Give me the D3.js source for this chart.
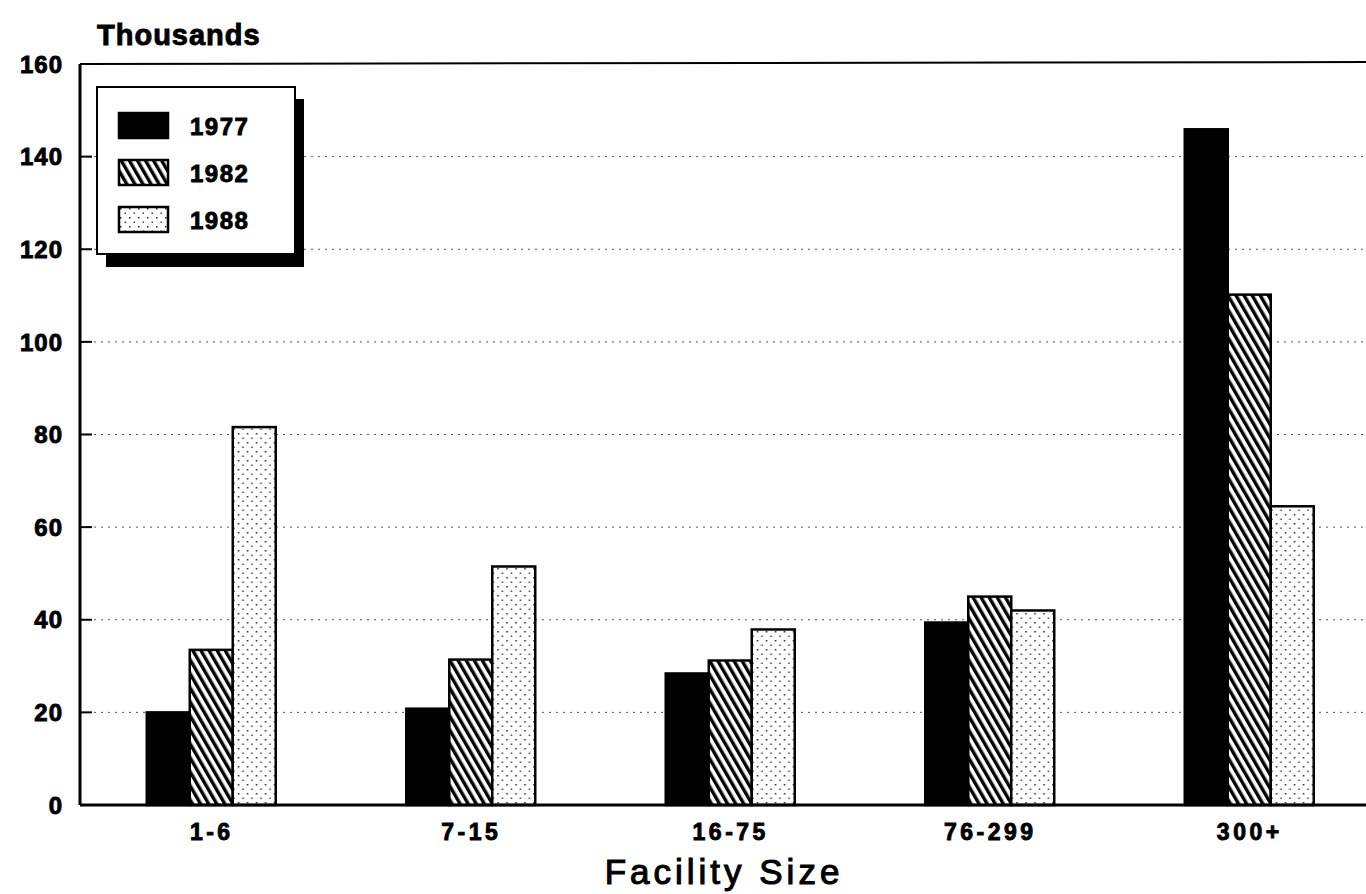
<!DOCTYPE html>
<html lang="en">
<head>
<meta charset="utf-8">
<script src="https://d3js.org/d3.v7.min.js"></script>
<style>
	body { margin: 0; background: #fff; }
	svg { display: block; }
	text { font-family: "Liberation Sans", Arial, sans-serif; font-weight: bold; fill: #000; stroke: #000; stroke-width: 0.9px; }
</style>
</head>
<body>
<script>
var width = 1366, height = 894;

// categories and series (thousands)
var sizes = ["1-6", "7-15", "16-75", "76-299", "300+"];
var years = ["1977", "1982", "1988"];
var v1977 = [20, 20.8, 28.4, 39.4, 145.9];
var v1982 = [33.5, 31.4, 31.2, 45, 110.2];
var v1988 = [81.6, 51.5, 37.9, 42, 64.5];
var yTicks = [0, 20, 40, 60, 80, 100, 120, 140, 160];

var series = [v1977, v1982, v1988];

var margin = {left: 80, top: 64, bottom: 805};

var svg = d3.select("body").append("svg")
	.attr("width", width)
	.attr("height", height);

// fill patterns
var defs = svg.append("defs");
var hatch = defs.append("pattern")
	.attr("id", "hatch")
	.attr("patternUnits", "userSpaceOnUse")
	.attr("width", 7).attr("height", 7)
	.attr("patternTransform", "rotate(-30)");
hatch.append("rect").attr("width", 7).attr("height", 7).attr("fill", "#fff");
hatch.append("rect").attr("width", 3.4).attr("height", 7).attr("fill", "#000");

var dots = defs.append("pattern")
	.attr("id", "dots")
	.attr("patternUnits", "userSpaceOnUse")
	.attr("width", 9).attr("height", 9);
dots.append("rect").attr("width", 9).attr("height", 9).attr("fill", "#fff");
dots.append("rect").attr("x", 1).attr("y", 1).attr("width", 1.5).attr("height", 1.5).attr("fill", "#222");
dots.append("rect").attr("x", 5.5).attr("y", 5.5).attr("width", 1.5).attr("height", 1.5).attr("fill", "#444");

var fills = ["#000", "url(#hatch)", "url(#dots)"];

var y = d3.scaleLinear().domain([0, 160]).range([margin.bottom, margin.top]);
var x0 = d3.scaleBand().domain(sizes).range([margin.left, 1377.5]);
var x1 = d3.scaleBand().domain(years).range([0, 129]);

// dotted gridlines
svg.append("g")
	.selectAll("line")
	.data(yTicks.filter(function(d) { return d > 0 && d < 160; }))
	.enter().append("line")
	.attr("x1", margin.left).attr("x2", width)
	.attr("y1", function(d) { return y(d); })
	.attr("y2", function(d) { return y(d); })
	.attr("stroke", "#555")
	.attr("stroke-width", 1)
	.attr("stroke-dasharray", "2,5");

// small inward ticks on the y axis
svg.append("g")
	.selectAll("line")
	.data(yTicks)
	.enter().append("line")
	.attr("x1", margin.left).attr("x2", margin.left + 12)
	.attr("y1", function(d) { return y(d); })
	.attr("y2", function(d) { return y(d); })
	.attr("stroke", "#000")
	.attr("stroke-width", 2);

// bars
var groups = svg.append("g").selectAll("g")
	.data(sizes)
	.enter().append("g")
	.attr("transform", function(d) { return "translate(" + (x0(d) + x0.bandwidth() / 2 - 63) + ",0)"; });

groups.selectAll("rect")
	.data(function(d, i) { return years.map(function(yr, j) { return {year: yr, value: series[j][i], k: j}; }); })
	.enter().append("rect")
	.attr("x", function(d) { return x1(d.year); })
	.attr("width", x1.bandwidth())
	.attr("y", function(d) { return y(d.value); })
	.attr("height", function(d) { return y(0) - y(d.value); })
	.attr("fill", function(d) { return fills[d.k]; })
	.attr("stroke", "#000")
	.attr("stroke-width", 2.5);

// frame
svg.append("line").attr("x1", margin.left).attr("x2", width)
	.attr("y1", margin.top).attr("y2", margin.top - 2)
	.attr("stroke", "#000").attr("stroke-width", 2);
svg.append("line").attr("x1", margin.left).attr("x2", width)
	.attr("y1", margin.bottom).attr("y2", margin.bottom)
	.attr("stroke", "#000").attr("stroke-width", 3);
svg.append("line").attr("x1", margin.left).attr("x2", margin.left)
	.attr("y1", margin.top).attr("y2", margin.bottom)
	.attr("stroke", "#000").attr("stroke-width", 3);

// y tick labels
svg.append("g").selectAll("text")
	.data(yTicks)
	.enter().append("text")
	.attr("x", 63)
	.attr("y", function(d) { return y(d); })
	.attr("dy", "0.36em")
	.attr("text-anchor", "end")
	.style("font-size", "24px")
	.style("letter-spacing", "1px")
	.text(function(d) { return d; });

// x tick labels
svg.append("g").selectAll("text")
	.data(sizes)
	.enter().append("text")
	.attr("x", function(d) { return x0(d) + x0.bandwidth() / 2 + 2; })
	.attr("y", 840)
	.attr("text-anchor", "middle")
	.style("font-size", "23px")
	.style("letter-spacing", "3.5px")
	.text(function(d) { return d; });

svg.append("text")
	.attr("x", 724).attr("y", 884)
	.attr("text-anchor", "middle")
	.style("font-size", "35px")
	.style("letter-spacing", "4px")
	.style("font-weight", "normal")
	.style("stroke-width", 1.1)
	.text("Facility Size");

svg.append("text")
	.attr("x", 97).attr("y", 45)
	.style("font-size", "29px")
	.style("letter-spacing", "1px")
	.text("Thousands");

// legend with drop shadow
var legend = svg.append("g").attr("transform", "translate(97,87)");
legend.append("rect").attr("x", 9).attr("y", 12).attr("width", 198).attr("height", 168).attr("fill", "#000");
legend.append("rect").attr("width", 198).attr("height", 167)
	.attr("fill", "#fff").attr("stroke", "#000").attr("stroke-width", 2);

var item = legend.selectAll("g.item")
	.data(years)
	.enter().append("g")
	.attr("class", "item")
	.attr("transform", function(d, i) { return "translate(22," + (26 + i * 47) + ")"; });

item.append("rect")
	.attr("width", 49).attr("height", 25)
	.attr("fill", function(d, i) { return fills[i]; })
	.attr("stroke", "#000").attr("stroke-width", 2.5);

item.append("text")
	.attr("x", 71).attr("y", 13)
	.attr("dy", "0.36em")
	.style("font-size", "24px")
	.style("letter-spacing", "1.5px")
	.text(function(d) { return d; });
</script>
</body>
</html>
